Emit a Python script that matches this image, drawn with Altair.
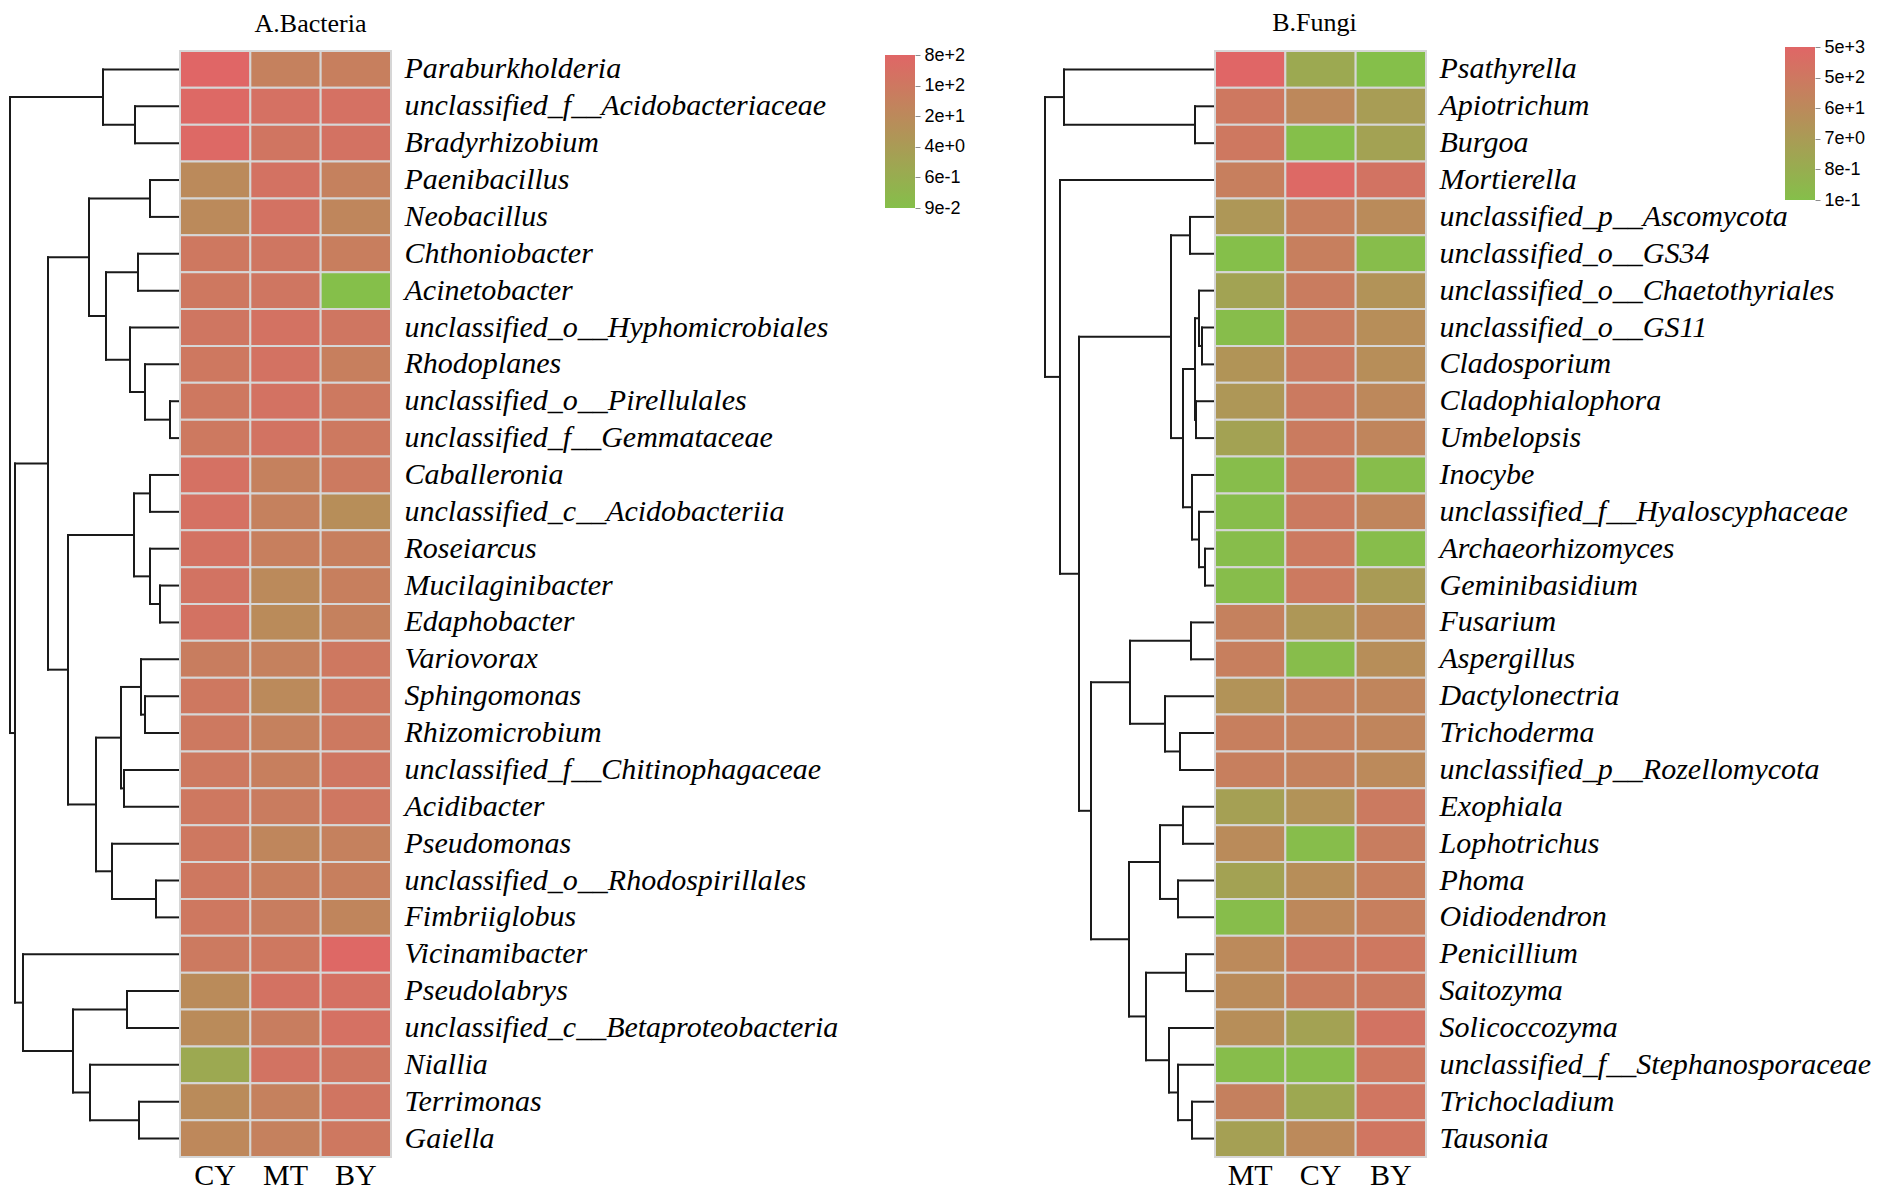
import altair as alt
import pandas as pd

# ---------------- data: A. Bacteria ----------------
bac_taxa = [
    "Paraburkholderia", "unclassified_f__Acidobacteriaceae", "Bradyrhizobium",
    "Paenibacillus", "Neobacillus", "Chthoniobacter", "Acinetobacter",
    "unclassified_o__Hyphomicrobiales", "Rhodoplanes", "unclassified_o__Pirellulales",
    "unclassified_f__Gemmataceae", "Caballeronia", "unclassified_c__Acidobacteriia",
    "Roseiarcus", "Mucilaginibacter", "Edaphobacter", "Variovorax", "Sphingomonas",
    "Rhizomicrobium", "unclassified_f__Chitinophagaceae", "Acidibacter", "Pseudomonas",
    "unclassified_o__Rhodospirillales", "Fimbriiglobus", "Vicinamibacter", "Pseudolabrys",
    "unclassified_c__Betaproteobacteria", "Niallia", "Terrimonas", "Gaiella",
]
bac_groups = ["CY", "MT", "BY"]
bac_CY = [800, 610, 610, 21, 21, 130, 130, 155, 130, 130, 120, 270, 270, 225, 205,
          225, 76, 130, 120, 120, 130, 130, 130, 130, 110, 18, 18, 0.9, 18, 26]
bac_MT = [53, 270, 170, 225, 225, 155, 155, 225, 225, 225, 205, 53, 53, 64, 21,
          18, 53, 21, 53, 64, 83, 31, 70, 76, 130, 225, 76, 205, 53, 53]
bac_BY = [64, 270, 225, 53, 31, 70, 0.094, 155, 64, 120, 120, 110, 13.6, 64, 64,
          53, 130, 130, 120, 155, 145, 53, 64, 34, 670, 270, 270, 155, 170, 130]
# (left child, right child, height); leaves are 0..29, merge k gets id 30+k
bac_merges = [
    (1, 2, 45), (0, 30, 77), (3, 4, 30), (5, 6, 42), (9, 10, 10), (8, 34, 35),
    (7, 35, 50), (33, 36, 74), (32, 37, 91), (11, 12, 30), (14, 15, 20), (13, 40, 30),
    (39, 41, 46), (17, 18, 35), (16, 43, 39), (19, 20, 56), (44, 45, 59), (22, 23, 24),
    (21, 47, 68), (46, 48, 84), (42, 49, 112), (38, 50, 132), (25, 26, 53), (28, 29, 41),
    (27, 53, 90), (52, 54, 107), (24, 55, 157), (51, 56, 165), (31, 57, 170),
]
bac_domain = [0.094, 800]
bac_ticks = [800, 131, 21.4, 3.51, 0.574, 0.094]

# ---------------- data: B. Fungi ----------------
fun_taxa = [
    "Psathyrella", "Apiotrichum", "Burgoa", "Mortierella", "unclassified_p__Ascomycota",
    "unclassified_o__GS34", "unclassified_o__Chaetothyriales", "unclassified_o__GS11",
    "Cladosporium", "Cladophialophora", "Umbelopsis", "Inocybe",
    "unclassified_f__Hyaloscyphaceae", "Archaeorhizomyces", "Geminibasidium", "Fusarium",
    "Aspergillus", "Dactylonectria", "Trichoderma", "unclassified_p__Rozellomycota",
    "Exophiala", "Lophotrichus", "Phoma", "Oidiodendron", "Penicillium", "Saitozyma",
    "Solicoccozyma", "unclassified_f__Stephanosporaceae", "Trichocladium", "Tausonia",
]
fun_groups = ["MT", "CY", "BY"]
fun_MT = [4730, 545, 545, 230, 12.4, 0.096, 3.0, 0.12, 17, 12.4, 3.4, 0.12, 0.12, 0.12, 0.12,
          185, 230, 21, 230, 230, 4.2, 51, 3.4, 0.12, 63, 51, 37, 0.12, 200, 4.2]
fun_CY = [1.43, 78, 0.096, 3420, 230, 230, 318, 318, 394, 394, 354, 394, 394, 439, 439,
          12.4, 0.12, 185, 185, 170, 21, 0.12, 37, 78, 394, 318, 3.4, 0.133, 1.6, 63]
fun_BY = [0.096, 5.8, 3.4, 935, 51, 0.12, 21, 37, 37, 78, 108, 0.12, 108, 0.12, 7.2,
          78, 37, 108, 108, 63, 394, 285, 230, 230, 545, 394, 935, 545, 676, 676]
fun_merges = [
    (1, 2, 20), (0, 30, 151), (4, 5, 25), (7, 8, 13), (6, 33, 16), (9, 10, 19),
    (34, 35, 20), (13, 14, 10), (12, 37, 16), (11, 38, 23), (36, 39, 32), (32, 40, 44),
    (15, 16, 24), (18, 19, 35), (17, 43, 50), (42, 44, 85), (20, 21, 32), (22, 23, 37),
    (46, 47, 55), (24, 25, 29), (28, 29, 23), (27, 50, 37), (26, 51, 46), (49, 52, 69),
    (48, 53, 86), (45, 54, 124), (41, 55, 136), (3, 56, 155), (31, 57, 170),
]
fun_domain = [0.096, 4730]
fun_ticks = [4730, 545, 62.8, 7.23, 0.833, 0.096]

GREEN = "#85bf4a"
RED = "#e06666"
HEAT_W = 211
HEAT_H = 1106
DENDRO_W = 170
BAR_W = 30
BAR_LEN = 153


def dendro_segments(merges, n):
    pos = {i: float(i) for i in range(n)}
    hgt = {i: 0.0 for i in range(n)}
    segs = []
    for k, (a, b, h) in enumerate(merges):
        node = n + k
        for c in (a, b):
            segs.append(dict(x1=hgt[c], x2=h, y1=pos[c], y2=pos[c]))
        segs.append(dict(x1=h, x2=h, y1=pos[a], y2=pos[b]))
        pos[node] = (pos[a] + pos[b]) / 2.0
        hgt[node] = h
    return pd.DataFrame(segs)


def panel(taxa, groups, cols, merges, domain, ticks, title, title_dx, title_offset, leg_x, leg_y):
    n = len(taxa)
    root_h = max(m[2] for m in merges)
    seg = dendro_segments(merges, n)
    dendro = alt.Chart(seg).mark_rule(color="#1a1a1a", strokeWidth=2, strokeCap="square").encode(
        x=alt.X("x1:Q", axis=None,
                scale=alt.Scale(domain=[0, root_h], range=[0, -DENDRO_W], nice=False, zero=False)),
        x2="x2:Q",
        y=alt.Y("y1:Q", axis=None,
                scale=alt.Scale(domain=[-0.5, n - 0.5], reverse=True, nice=False, zero=False)),
        y2="y2:Q",
    )

    rows = []
    for g in groups:
        for t, v in zip(taxa, cols[g]):
            rows.append(dict(taxon=t, group=g, value=v))
    df = pd.DataFrame(rows)
    heat = alt.Chart(df).mark_rect(stroke="#d6d6d6", strokeWidth=2).encode(
        x=alt.X("group:N", sort=groups,
                scale=alt.Scale(paddingInner=0, paddingOuter=0),
                axis=alt.Axis(orient="bottom", title=None, labelAngle=0, ticks=False, domain=False,
                              labelFont="Liberation Serif", labelFontSize=30, labelPadding=3,
                              labelColor="black")),
        y=alt.Y("taxon:N", sort=taxa,
                scale=alt.Scale(paddingInner=0, paddingOuter=0),
                axis=alt.Axis(orient="right", title=None, ticks=False, domain=False,
                              labelFont="Liberation Serif", labelFontStyle="italic",
                              labelFontSize=30, labelPadding=13, labelLimit=900,
                              labelColor="black")),
        color=alt.Color("value:Q",
                        scale=alt.Scale(type="log", domain=domain, range=[GREEN, RED],
                                        interpolate="rgb", clamp=True, nice=False),
                        legend=None),
    )

    # colour bar: log axis with the same domain as the colour scale
    cb = pd.DataFrame({"lo": [domain[0]], "hi": [domain[1]]})
    colorbar = alt.Chart(cb).mark_rect(
        fill=alt.LinearGradient(
            gradient="linear", x1=0, y1=1, x2=0, y2=0,
            stops=[alt.GradientStop(color=GREEN, offset=0), alt.GradientStop(color=RED, offset=1)],
        )
    ).encode(
        x=alt.value(leg_x), x2=alt.value(leg_x + BAR_W),
        y=alt.Y("lo:Q",
                scale=alt.Scale(type="log", domain=domain, range=[leg_y + BAR_LEN, leg_y], nice=False),
                axis=alt.Axis(orient="right", offset=leg_x + BAR_W - HEAT_W, values=ticks,
                              format=".0e", title=None, grid=False, domain=False, ticks=True,
                              tickSize=5, tickWidth=1, tickColor="#8c8c8c", labelPadding=4,
                              labelFont="Liberation Sans", labelFontSize=18, labelColor="black",
                              labelOverlap=False, labelFlush=False, labelBound=False)),
        y2="hi:Q",
    )

    return alt.layer(dendro, heat, colorbar).resolve_scale(
        x="independent", y="independent"
    ).properties(
        width=HEAT_W, height=HEAT_H,
        title=alt.TitleParams(text=title, font="Liberation Serif", fontSize=26, fontWeight="normal",
                              color="black", anchor="middle", frame="group", dx=title_dx,
                              offset=title_offset),
    )


bac = panel(bac_taxa, bac_groups, {"CY": bac_CY, "MT": bac_MT, "BY": bac_BY}, bac_merges,
            bac_domain, bac_ticks, "A.Bacteria", 25, 9, 705, 4)
fun = panel(fun_taxa, fun_groups, {"MT": fun_MT, "CY": fun_CY, "BY": fun_BY}, fun_merges,
            fun_domain, fun_ticks, "B.Fungi", -6, 2, 570, -4)

chart = alt.HConcatChart(hconcat=[bac, fun], spacing=1035 - HEAT_W, bounds="flush").resolve_scale(
    color="independent"
).properties(
    padding={"left": 0, "top": 2, "right": 0, "bottom": 0}, background="white"
).configure_view(stroke=None)

chart.save("out.html", embed_options={"renderer": "svg", "actions": False})
